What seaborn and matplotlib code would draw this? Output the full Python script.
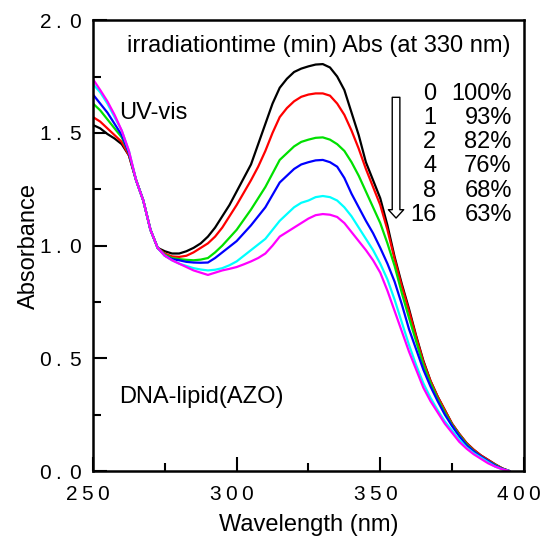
import numpy as np
import pandas as pd
import matplotlib
matplotlib.use('Agg')
import matplotlib.pyplot as plt
import seaborn as sns
from matplotlib.ticker import MultipleLocator, FixedLocator
from matplotlib.transforms import ScaledTranslation

# wavelength grid (nm) and absorbance
wavelength = [250, 252.5, 255, 257.5, 260, 262.5, 265, 267.5, 270, 272.5, 275, 277.5, 280, 282.5,
              285, 287.5, 290, 292.5, 295, 297.5, 300, 302.5, 305, 307.5, 310, 312.5, 315, 317.5,
              320, 322.5, 325, 327.5, 330, 332.5, 335, 337.5, 340, 342.5, 345, 347.5, 350, 352.5,
              355, 357.5, 360, 362.5, 365, 367.5, 370, 372.5, 375, 377.5, 380, 382.5, 385, 387.5,
              390, 392.5, 395]

abs_0min = [1.535, 1.52, 1.495, 1.475, 1.45, 1.40, 1.29, 1.20, 1.07, 0.99, 0.975, 0.965, 0.965, 0.975,
            0.99, 1.01, 1.04, 1.08, 1.13, 1.18, 1.24, 1.30, 1.36, 1.45, 1.54, 1.63, 1.70, 1.74,
            1.77, 1.785, 1.795, 1.803, 1.805, 1.79, 1.75, 1.69, 1.59, 1.49, 1.37, 1.29, 1.21, 1.09,
            0.95, 0.83, 0.72, 0.60, 0.49, 0.40, 0.33, 0.27, 0.21, 0.165, 0.125, 0.095, 0.07, 0.05,
            0.03, 0.012, 0.0]
abs_1min = [1.57, 1.55, 1.52, 1.49, 1.46, 1.40, 1.29, 1.20, 1.07, 0.99, 0.965, 0.952, 0.95, 0.955,
            0.97, 0.99, 1.01, 1.04, 1.08, 1.13, 1.18, 1.235, 1.29, 1.35, 1.42, 1.50, 1.57, 1.61,
            1.64, 1.66, 1.67, 1.675, 1.675, 1.665, 1.63, 1.58, 1.51, 1.43, 1.34, 1.26, 1.18, 1.07,
            0.94, 0.82, 0.71, 0.595, 0.485, 0.40, 0.33, 0.27, 0.21, 0.165, 0.125, 0.095, 0.07, 0.05,
            0.03, 0.012, 0.0]
abs_2min = [1.63, 1.60, 1.56, 1.52, 1.48, 1.41, 1.29, 1.20, 1.07, 0.99, 0.96, 0.945, 0.94, 0.937,
            0.935, 0.938, 0.945, 0.97, 1.00, 1.035, 1.07, 1.115, 1.16, 1.21, 1.26, 1.32, 1.38, 1.41,
            1.44, 1.46, 1.47, 1.478, 1.48, 1.47, 1.45, 1.42, 1.37, 1.31, 1.24, 1.17, 1.10, 1.01,
            0.91, 0.79, 0.68, 0.575, 0.47, 0.39, 0.32, 0.26, 0.205, 0.16, 0.12, 0.09, 0.065, 0.045,
            0.028, 0.01, 0.0]
abs_4min = [1.67, 1.63, 1.59, 1.54, 1.49, 1.41, 1.29, 1.20, 1.07, 0.99, 0.955, 0.94, 0.935, 0.928,
            0.925, 0.924, 0.925, 0.945, 0.97, 0.995, 1.02, 1.055, 1.09, 1.13, 1.17, 1.225, 1.28, 1.31,
            1.34, 1.36, 1.37, 1.378, 1.38, 1.37, 1.35, 1.30, 1.23, 1.17, 1.11, 1.055, 0.99, 0.92,
            0.84, 0.74, 0.63, 0.54, 0.45, 0.375, 0.31, 0.25, 0.20, 0.155, 0.115, 0.088, 0.065, 0.045,
            0.025, 0.01, 0.0]
abs_8min = [1.716, 1.68, 1.63, 1.57, 1.51, 1.42, 1.29, 1.20, 1.07, 0.99, 0.955, 0.935, 0.92, 0.91,
            0.90, 0.894, 0.89, 0.893, 0.90, 0.913, 0.93, 0.955, 0.98, 1.005, 1.03, 1.07, 1.11, 1.14,
            1.17, 1.19, 1.20, 1.215, 1.22, 1.215, 1.20, 1.17, 1.13, 1.08, 1.03, 0.98, 0.92, 0.85,
            0.76, 0.66, 0.56, 0.47, 0.39, 0.325, 0.27, 0.22, 0.18, 0.14, 0.105, 0.08, 0.06, 0.04,
            0.02, 0.008, 0.0]
abs_16min = [1.738, 1.69, 1.64, 1.58, 1.51, 1.42, 1.29, 1.20, 1.07, 0.99, 0.955, 0.935, 0.92, 0.905,
             0.89, 0.88, 0.87, 0.88, 0.89, 0.897, 0.905, 0.917, 0.93, 0.945, 0.965, 1.00, 1.04, 1.06,
             1.08, 1.10, 1.12, 1.135, 1.14, 1.137, 1.127, 1.10, 1.06, 1.02, 0.98, 0.935, 0.88, 0.80,
             0.71, 0.62, 0.53, 0.45, 0.37, 0.31, 0.26, 0.21, 0.17, 0.13, 0.10, 0.075, 0.055, 0.035,
             0.02, 0.008, 0.0]

times = ['0', '1', '2', '4', '8', '16']
percent = ['100%', '93%', '82%', '76%', '68%', '63%']
colors = ['black', 'red', '#00e000', 'blue', 'cyan', 'magenta']

series = [abs_0min, abs_1min, abs_2min, abs_4min, abs_8min, abs_16min]
df = pd.concat([pd.DataFrame({'Wavelength': wavelength, 'Absorbance': s, 'time': t})
                for s, t in zip(series, times)], ignore_index=True)

sns.set_style('ticks')
plt.rcParams['font.family'] = ['Liberation Sans', 'DejaVu Sans']
plt.rcParams['text.color'] = 'black'
plt.rcParams['axes.labelcolor'] = 'black'
plt.rcParams['xtick.color'] = 'black'
plt.rcParams['ytick.color'] = 'black'
plt.rcParams['axes.edgecolor'] = 'black'

fig = plt.figure(figsize=(5.44, 5.44), dpi=100)
ax = fig.add_axes([0.171, 0.134, 0.792, 0.829])

sns.lineplot(data=df, x='Wavelength', y='Absorbance', hue='time', hue_order=times,
             palette=colors, linewidth=1.6, legend=False, ax=ax, sort=False)

ax.set_xlim(250, 400)
ax.set_ylim(0, 2.0)

# letter-spaced tick labels like the original (mathtext spaces)
xt = [250, 300, 350, 400]
yt = [0.0, 0.5, 1.0, 1.5, 2.0]
def spaced(s):
    return r'$\mathregular{' + r'\:'.join(s) + '}$'
ax.xaxis.set_major_locator(FixedLocator(xt))
ax.yaxis.set_major_locator(FixedLocator(yt))
ax.set_xticklabels([spaced(str(v)) for v in xt], fontsize=15)
ax.set_yticklabels([spaced(f'{v:.1f}') for v in yt], fontsize=15)
ax.xaxis.set_minor_locator(MultipleLocator(25))
ax.yaxis.set_minor_locator(MultipleLocator(0.25))
ax.tick_params(which='major', direction='in', length=10, width=1.5)
ax.tick_params(axis='y', which='major', pad=8)
ax.tick_params(axis='x', which='major', pad=10)
ax.tick_params(which='minor', direction='in', length=6, width=1.5)
ax.tick_params(top=False, right=False, which='both')
for sp in ax.spines.values():
    sp.set_visible(True)
    sp.set_linewidth(1.8)

# x labels sit a little left of their ticks in the original
shift = ScaledTranslation(-5 / 100, 0, fig.dpi_scale_trans)
for tick in ax.xaxis.get_major_ticks():
    tick.label1.set_transform(tick.label1.get_transform() + shift)

ax.set_xlabel('Wavelength (nm)', fontsize=17, va='center')
ax.set_ylabel('Absorbance', fontsize=17, va='center')
ax.xaxis.set_label_coords(0.5, -0.12)
ax.yaxis.set_label_coords(-0.148, 0.5)

ax.text(0.078, 0.943, 'irradiationtime (min) Abs (at 330 nm)', transform=ax.transAxes,
        fontsize=17, va='center', ha='left')
ax.text(0.06, 0.795, 'UV-vis', transform=ax.transAxes, fontsize=17, va='center', ha='left')
ax.text(0.06, 0.165, 'DNA-lipid(AZO)', transform=ax.transAxes, fontsize=17, va='center', ha='left')

# legend table: time and relative absorbance
for i, (t, p) in enumerate(zip(times, percent)):
    yy = 0.836 - i * 0.0535
    ax.text(0.797, yy, t, transform=ax.transAxes, fontsize=17, va='center', ha='right')
    ax.text(0.972, yy, p, transform=ax.transAxes, fontsize=17, va='center', ha='right')

ax.annotate('', xy=(355.5, 1.11), xytext=(355.5, 1.67),
            arrowprops=dict(arrowstyle='simple,head_length=0.6,head_width=1.1,tail_width=0.55',
                            fc='white', ec='black', lw=1.0))

fig.savefig('out.png', dpi=100)
